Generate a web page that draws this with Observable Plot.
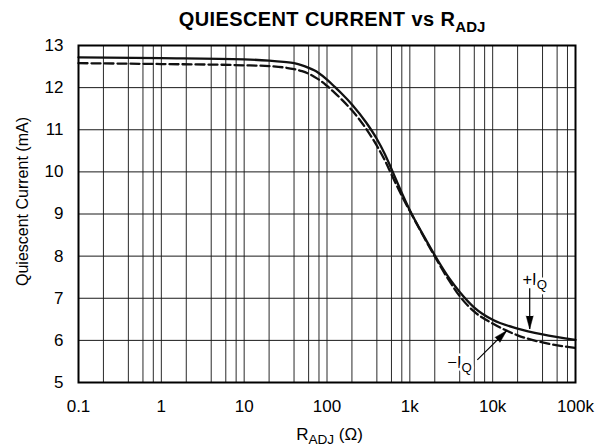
<!DOCTYPE html>
<html>
<head>
<meta charset="utf-8">
<script src="https://cdn.jsdelivr.net/npm/d3@7"></script>
<script src="https://cdn.jsdelivr.net/npm/@observablehq/plot@0.6"></script>
<style>
  html, body { margin: 0; padding: 0; background: #fff; }
  #wrap { width: 610px; height: 446px; position: relative; overflow: hidden; font-family: "Liberation Sans", Arial, sans-serif; }
  #title { box-sizing: border-box; width: 610px; height: 36px; padding-top: 9px; padding-left: 54px; text-align: center;
           font-weight: bold; font-size: 20px; line-height: 20px; letter-spacing: 0.4px; color: #000; }
  #title .sub { font-size: 15px; position: relative; top: 6px; letter-spacing: 0; }
  #chart svg { display: block; }
</style>
</head>
<body>
<div id="wrap">
  <div id="title">QUIESCENT CURRENT vs R<span class="sub">ADJ</span></div>
  <div id="chart"></div>
</div>
<script>
// ---- data ----
const rAdj = [0.1, 1, 10, 20, 30, 40, 50, 60, 70, 80, 100, 125, 150, 200, 300, 400, 500, 600, 800, 1000, 1500, 2000, 3000, 4000, 6000, 10000, 20000, 40000, 100000];
const iqPlus = [12.72, 12.70, 12.67, 12.64, 12.61, 12.58, 12.53, 12.47, 12.41, 12.34, 12.19, 12.01, 11.86, 11.60, 11.16, 10.78, 10.42, 10.07, 9.50, 9.09, 8.45, 8.02, 7.47, 7.15, 6.78, 6.49, 6.28, 6.14, 6.01];
const iqMinus = [12.58, 12.56, 12.53, 12.51, 12.48, 12.44, 12.39, 12.33, 12.26, 12.19, 12.04, 11.87, 11.72, 11.46, 11.01, 10.62, 10.27, 9.94, 9.43, 9.07, 8.43, 7.99, 7.41, 7.05, 6.68, 6.40, 6.12, 5.95, 5.82];

const xTickValues = [0.1, 1, 10, 100, 1000, 10000, 100000];
const xTickLabels = ["0.1", "1", "10", "100", "1k", "10k", "100k"];
const yTickValues = [5, 6, 7, 8, 9, 10, 11, 12, 13];
const gridDecades = [0.1, 1, 10, 100, 1000, 10000];
const gridMultipliers = [2, 4, 6, 8];

const annotationLabels = ["+I_{Q}", "\u2212I_{Q}"];
const annotationX = [22850, 2838];
const annotationY = [7.31, 5.34];
const arrowX1 = [28000, 6530];
const arrowY1 = [7.235, 5.536];
const arrowX2 = [28000, 14760];
const arrowY2 = [6.27, 6.23];
const arrowAngle = [180, 45];

const yAxisLabel = "Quiescent Current (mA)";
const xAxisLabel = "R_{ADJ} (\u03A9)";

// ---- derived tables ----
const plusData = rAdj.map((r, i) => ({r, v: iqPlus[i]}));
const minusData = rAdj.map((r, i) => ({r, v: iqMinus[i]}));
const gridX = gridDecades.flatMap(d => [d, ...gridMultipliers.map(m => d * m)]).concat([100000]);
const annotations = annotationLabels.map((label, i) => ({label, x: annotationX[i], y: annotationY[i]}));
const arrows = arrowX1.map((x1, i) => ({x1, y1: arrowY1[i], x2: arrowX2[i], y2: arrowY2[i], a: arrowAngle[i]}));
const tickLabel = new Map(xTickValues.map((v, i) => [v, xTickLabels[i]]));

const chart = Plot.plot({
  width: 610,
  height: 410,
  marginLeft: 78,
  marginRight: 35,
  marginTop: 9,
  marginBottom: 64,
  style: {fontFamily: "'Liberation Sans', Arial, sans-serif", fontSize: "17px", color: "#000", background: "#fff", overflow: "visible"},
  x: {type: "log", domain: [0.1, 100000]},
  y: {domain: [5, 13]},
  marks: [
    Plot.ruleX(gridX, {stroke: "#2a2a2a", strokeWidth: 1}),
    Plot.ruleY(yTickValues, {stroke: "#1a1a1a", strokeWidth: 1}),
    Plot.axisX(xTickValues, {tickSize: 0, tickPadding: 17, tickFormat: d => tickLabel.get(d), label: null, fontSize: 17}),
    Plot.axisY(yTickValues, {tickSize: 0, tickPadding: 15, label: null, fontSize: 17}),
    Plot.line(minusData, {x: "r", y: "v", stroke: "#111", strokeWidth: 2.3, strokeDasharray: "9,4", curve: "monotone-x"}),
    Plot.line(plusData, {x: "r", y: "v", stroke: "#111", strokeWidth: 2.3, curve: "monotone-x"}),
    Plot.text(annotations, {x: "x", y: "y", text: "label", textAnchor: "start", lineAnchor: "bottom", fontSize: 16.5, fill: "#000", stroke: "#fff", strokeWidth: 5}),
    Plot.link(arrows, {x1: "x1", y1: "y1", x2: "x2", y2: "y2", stroke: "#000", strokeWidth: 1.2}),
    Plot.vector(arrows, {x: "x2", y: "y2", rotate: "a", length: 13, r: 3.5, shape: "spike", anchor: "end", fill: "#000", stroke: "#000", strokeWidth: 0.5}),
    Plot.frame({stroke: "#000", strokeWidth: 2}),
    Plot.text([yAxisLabel], {frameAnchor: "left", textAnchor: "middle", lineAnchor: "middle", rotate: -90, dx: -56, dy: -12.5, fontSize: 16, fill: "#000"}),
    Plot.text([xAxisLabel], {frameAnchor: "bottom", textAnchor: "middle", lineAnchor: "bottom", dx: 2.5, dy: 57.5, fontSize: 17, fill: "#000"})
  ]
});

// turn "_{...}" into subscript tspans
d3.select(chart).selectAll("text").each(function () {
  const t = this.textContent;
  if (!t.includes("_{")) return;
  const fs = parseFloat(this.getAttribute("font-size")) || parseFloat(this.parentNode.getAttribute("font-size")) || 17;
  const subSize = fs * 0.8;
  const subDy = fs * 0.25;
  const parts = t.split(/_\{([^}]*)\}/);
  const sel = d3.select(this);
  sel.text(null);
  let shifted = false;
  parts.forEach((p, i) => {
    if (!p) return;
    const ts = sel.append("tspan").text(p);
    if (i % 2 === 1) { ts.attr("dy", subDy).attr("font-size", subSize); shifted = true; }
    else if (shifted) { ts.attr("dy", -subDy); shifted = false; }
  });
});

document.getElementById("chart").appendChild(chart);
</script>
</body>
</html>
